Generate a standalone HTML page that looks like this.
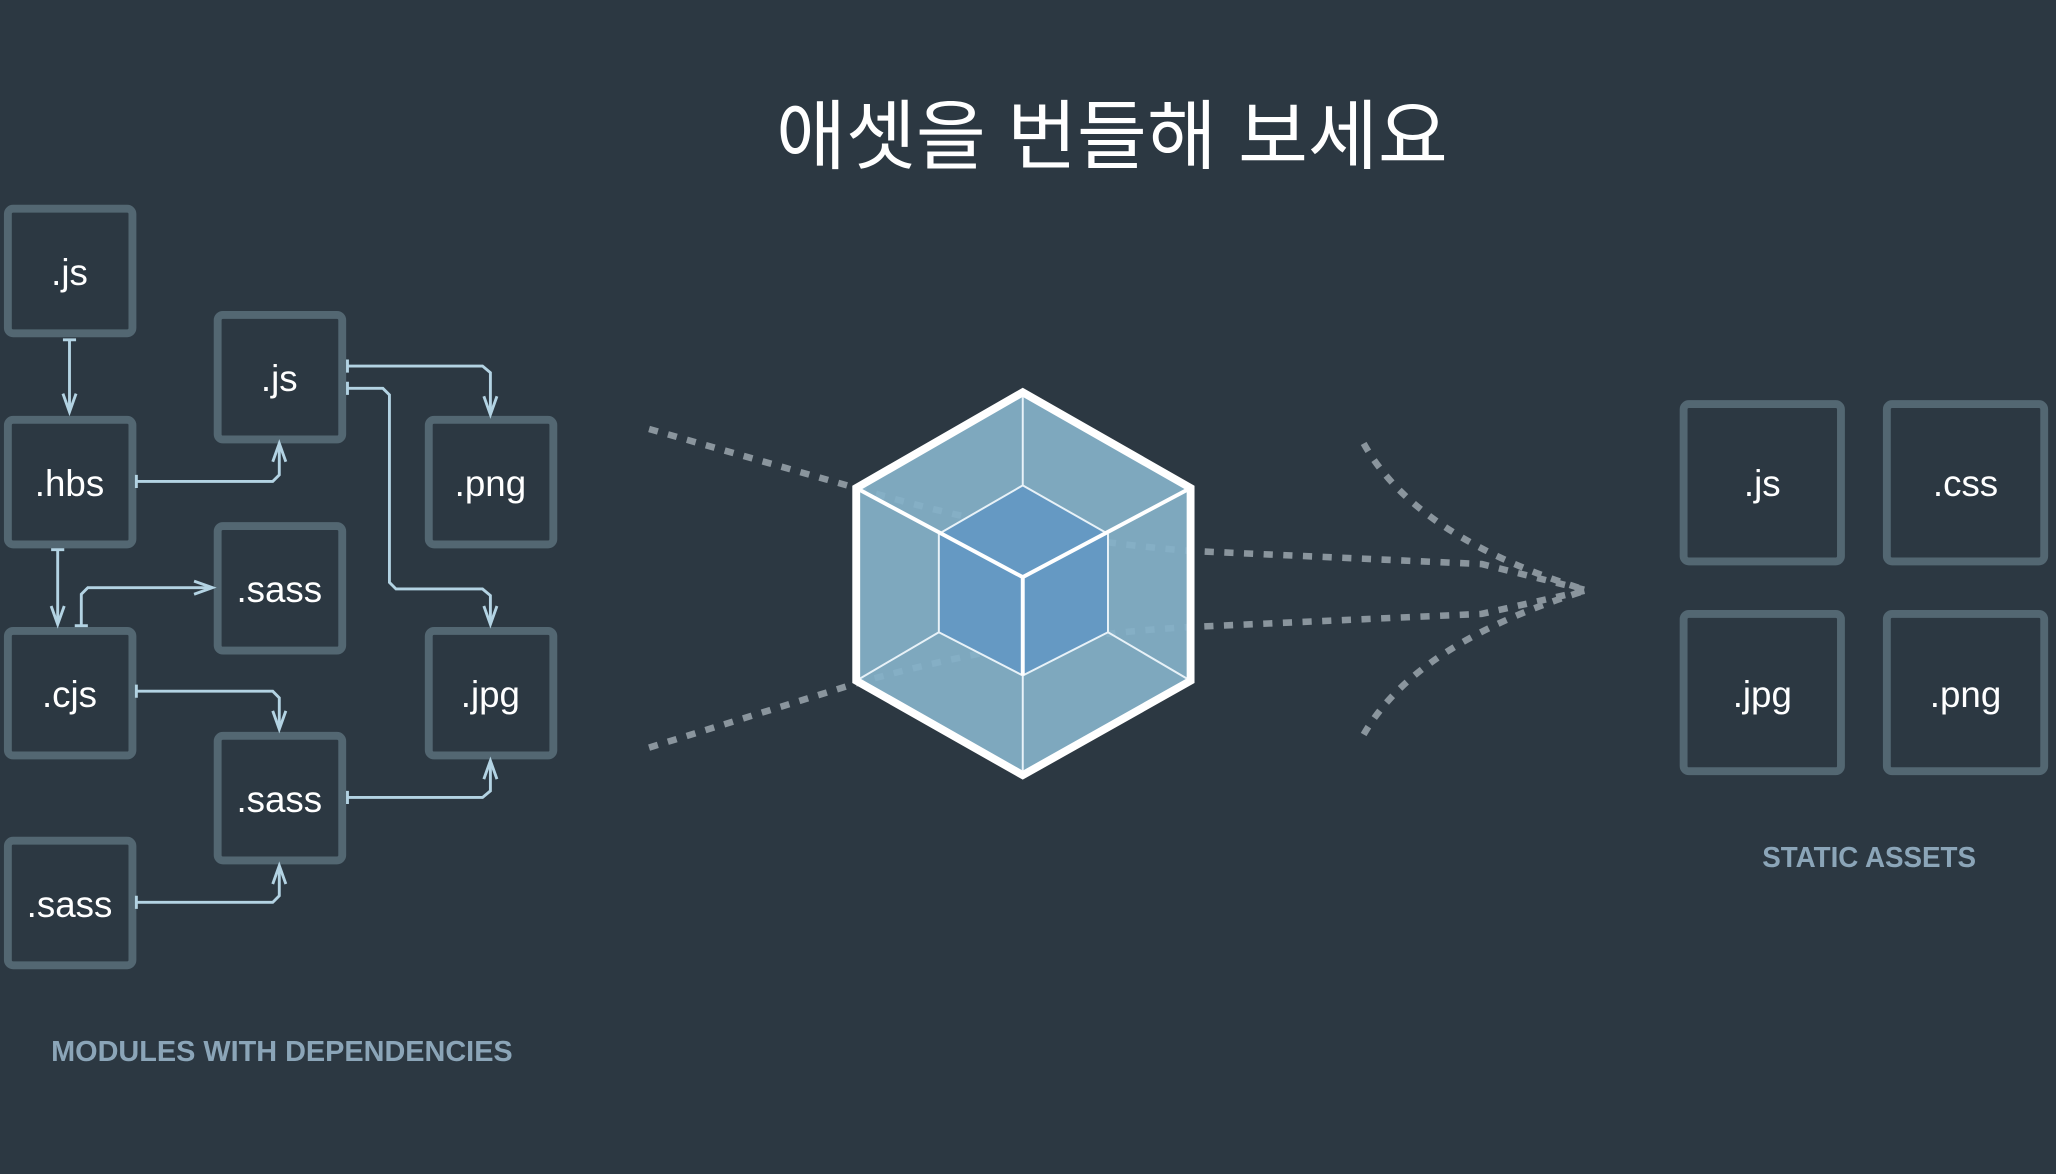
<!DOCTYPE html>
<html><head><meta charset="utf-8"><style>
html,body{margin:0;padding:0;background:#2c3842;}
svg{display:block}
</style></head><body>
<svg width="2056" height="1174" viewBox="0 0 1568 895" xmlns="http://www.w3.org/2000/svg">
<rect width="1568" height="895" fill="#2c3842"/>
<text x="848" y="124" text-anchor="middle" font-family="'Liberation Sans','Noto Sans CJK KR',sans-serif" font-size="58" fill="#fff">애셋을 번들해 보세요</text>
<g fill="none" stroke="#536772" stroke-width="6">
<rect x="6" y="159" width="95" height="95" rx="4"/>
<rect x="166" y="240" width="95" height="95" rx="4"/>
<rect x="6" y="320" width="95" height="95" rx="4"/>
<rect x="327" y="320" width="95" height="95" rx="4"/>
<rect x="166" y="401" width="95" height="95" rx="4"/>
<rect x="6" y="481" width="95" height="95" rx="4"/>
<rect x="327" y="481" width="95" height="95" rx="4"/>
<rect x="166" y="561" width="95" height="95" rx="4"/>
<rect x="6" y="641" width="95" height="95" rx="4"/>
<rect x="1284" y="308" width="120" height="120" rx="4"/>
<rect x="1439" y="308" width="120" height="120" rx="4"/>
<rect x="1284" y="468" width="120" height="120" rx="4"/>
<rect x="1439" y="468" width="120" height="120" rx="4"/>
</g>
<g font-family="'Liberation Sans',sans-serif" font-size="28" fill="#fff" text-anchor="middle">
<text x="53" y="217">.js</text>
<text x="213" y="298">.js</text>
<text x="53" y="378">.hbs</text>
<text x="374" y="378">.png</text>
<text x="213" y="459">.sass</text>
<text x="53" y="539">.cjs</text>
<text x="374" y="539">.jpg</text>
<text x="213" y="619">.sass</text>
<text x="53" y="699">.sass</text>
<text x="1344" y="378">.js</text>
<text x="1499" y="378">.css</text>
<text x="1344" y="539">.jpg</text>
<text x="1499" y="539">.png</text>
</g>
<g font-family="'Liberation Sans',sans-serif" font-size="22" font-weight="bold" fill="#8ba5b8">
<text x="39" y="809" textLength="352" lengthAdjust="spacingAndGlyphs">MODULES WITH DEPENDENCIES</text>
<text x="1344" y="661" textLength="163" lengthAdjust="spacingAndGlyphs">STATIC ASSETS</text>
</g>
<g fill="none" stroke="#b3d3e3" stroke-width="2.2">
<path d="M53 259V314 M48 259h10"/>
<path d="M104 367H208l5-5V340 M104 362v10"/>
<path d="M265 279H368l6 5V314 M265 274v10"/>
<path d="M265 296H292l5 5V444l5 5H368l6 5V474 M265 291v10"/>
<path d="M44 419V474 M39 419h10"/>
<path d="M62 477V453l5-5H160 M57 477h10"/>
<path d="M104 527H208l5 5V554 M104 522v10"/>
<path d="M265 608H368l6-5V582 M265 603v10"/>
<path d="M104 688H208l5-5V662 M104 683v10"/>
</g>
<g fill="none" stroke="#b3d3e3" stroke-width="2.2" stroke-linejoin="miter">
<path d="M48 300l5 14 5-14"/>
<path d="M208 352l5-14 5 14"/>
<path d="M369 302l5 14 5-14"/>
<path d="M369 462l5 14 5-14"/>
<path d="M39 462l5 14 5-14"/>
<path d="M148 443l14 5-14 5"/>
<path d="M208 542l5 14 5-14"/>
<path d="M369 594l5-14 5 14"/>
<path d="M208 674l5-14 5 14"/>
</g>
<g fill="none" stroke="#8a959d" stroke-width="5" stroke-dasharray="7 8">
<path d="M495 327L653 372Q780 410 908 420L1130 430L1210 450"/>
<path d="M495 570L653 521Q780 485 908 478L1130 468L1210 450"/>
<path d="M1040 338Q1080 410 1210 450"/>
<path d="M1040 560Q1080 490 1210 450"/>
</g>
<polygon points="780,299 908,372 908,519 780,591 653,519 653,372" fill="#84b0c8" fill-opacity="0.93"/>
<polygon points="780,370 845,407 845,482 780,515 716,482 716,407" fill="#6599c3"/>
<g stroke="#e8f2f8" stroke-width="1.5" fill="none">
<path d="M780 299V370 M908 519L845 482 M653 519L716 482 M716 407V482 M845 407V482 M780 370L845 407 M780 370L716 407 M716 482L780 515L845 482 M780 515V591"/>
</g>
<g stroke="#fff" stroke-width="3" fill="none">
<path d="M653 372L780 440L908 372 M780 440V515"/>
</g>
<polygon points="780,299 908,372 908,519 780,591 653,519 653,372" fill="none" stroke="#fff" stroke-width="6"/>
</svg>
</body></html>
